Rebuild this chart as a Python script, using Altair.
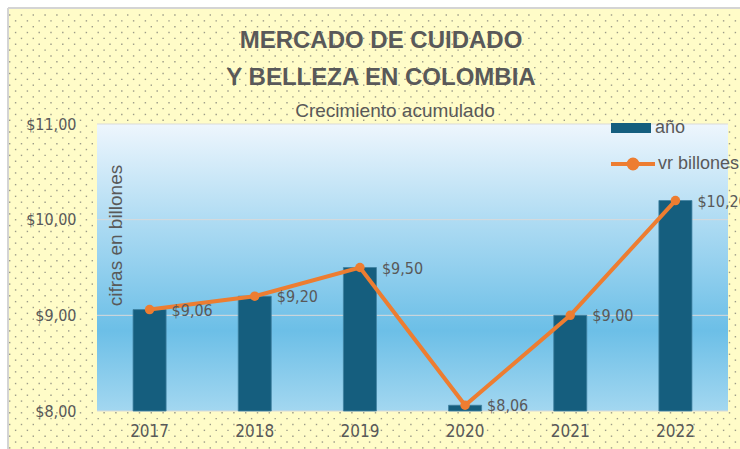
import altair as alt
import pandas as pd

# ---- data ----
years = ["2017", "2018", "2019", "2020", "2021", "2022"]
values = [9.06, 9.20, 9.50, 8.06, 9.00, 10.20]
y_ticks = [8, 9, 10, 11]
bar_series = "año"
line_series = "vr billones"
title_lines = ["MERCADO DE CUIDADO", "Y BELLEZA EN COLOMBIA"]
subtitle = "Crecimiento acumulado"
y_title = "cifras en billones"

W, H = 631, 287
GRAY = "#595959"
NARROW = "Liberation Sans Narrow, DejaVu Sans Condensed, Roboto"
REG = "Liberation Sans, Arial, sans-serif"

df = pd.DataFrame({"year": years, "value": values})
df["sb"] = bar_series
df["sl"] = line_series
df["label"] = ["$" + f"{v:.2f}".replace(".", ",") for v in values]

one = pd.DataFrame({"a": [0]})
grid_df = pd.DataFrame({"t": y_ticks})

xenc = alt.X("year:N", sort=years,
             scale=alt.Scale(paddingInner=0.686, paddingOuter=0.343),
             axis=alt.Axis(title=None, labelAngle=0, labelFont=NARROW, labelFontSize=17,
                           labelColor=GRAY, labelPadding=12, ticks=False, domain=False,
                           grid=False, zindex=1))
yscale = alt.Scale(domain=[8, 11], zero=False, nice=False)
yenc = alt.Y("value:Q", scale=yscale,
             axis=alt.Axis(values=y_ticks, grid=False, ticks=False, domain=False,
                           labelExpr="'$' + replace(format(datum.value, '.2f'), '.', ',')",
                           labelFont=NARROW, labelFontSize=16, labelColor=GRAY,
                           labelPadding=21, title=y_title, titleFont=REG,
                           titleFontSize=19, titleFontWeight="normal", titleColor=GRAY,
                           titleX=18, titleY=111, titleAngle=-90, titleBaseline="middle",
                           titleAlign="center", zindex=1))

# decorative background
yellow = alt.Chart(one).mark_rect(fill="#fffcc8").encode(
    x=alt.value(-88), x2=alt.value(W + 12), y=alt.value(-115), y2=alt.value(H + 38))
frame_top = alt.Chart(one).mark_rule(color="#d4d4d4", strokeWidth=2).encode(
    x=alt.value(-89), x2=alt.value(W + 12), y=alt.value(-116))
frame_left = alt.Chart(one).mark_rule(color="#d4d4d4", strokeWidth=2).encode(
    x=alt.value(-89), y=alt.value(-116), y2=alt.value(H + 38))

# dotted texture of the chart area (decorative pattern)
dots = alt.Chart(alt.sequence(0, 76 * 63, as_="k")).transform_calculate(
    j="floor(datum.k / 63)", i="datum.k % 63"
).transform_calculate(
    px="-87.3 + datum.i * 11.8 + (datum.j % 2) * 5.9",
    py="-109 + datum.j * 5.85"
).transform_filter(
    "datum.px < %d && datum.py < %d" % (W + 11, H + 37)
).mark_square(size=2, color="#8a8a7c", opacity=0.85).encode(
    x=alt.X("px:Q", scale=None, axis=None),
    y=alt.Y("py:Q", scale=None, axis=None))

grad = alt.Gradient(
    gradient="linear", x1=0, x2=0, y1=0, y2=1,
    stops=[alt.GradientStop(color="#eef6fd", offset=0),
           alt.GradientStop(color="#b0dcf3", offset=0.33),
           alt.GradientStop(color="#6cbfe7", offset=0.72),
           alt.GradientStop(color="#a3d7f0", offset=1)])
plot_bg = alt.Chart(one).mark_rect(fill=grad).encode(
    x=alt.value(0), x2=alt.value(W), y=alt.value(0), y2=alt.value(H))

# title texts (drawn as text marks above the plot area)
t1 = alt.Chart(one).mark_text(text=title_lines[0], font=REG, fontSize=24, fontWeight="bold",
                              color=GRAY, align="center", baseline="middle").encode(
    x=alt.value(284), y=alt.value(-83))
t2 = alt.Chart(one).mark_text(text=title_lines[1], font=REG, fontSize=24, fontWeight="bold",
                              color=GRAY, align="center", baseline="middle").encode(
    x=alt.value(284), y=alt.value(-46))
t3 = alt.Chart(one).mark_text(text=subtitle, font=REG, fontSize=19,
                              color=GRAY, align="center", baseline="middle").encode(
    x=alt.value(298), y=alt.value(-13))

grid = alt.Chart(grid_df).mark_rule(color="#d9d9d9", strokeWidth=1).encode(
    y=alt.Y("t:Q", scale=yscale))

base = alt.Chart(df)

bars = base.mark_bar(stroke="#3f80a0", strokeWidth=0.8).encode(
    x=xenc, y=yenc, y2=alt.datum(8),
    fill=alt.Fill("sb:N", scale=alt.Scale(domain=[bar_series], range=["#155e7e"]),
                  legend=alt.Legend(title=None, orient="none", legendX=514, legendY=-16,
                                    symbolType="M-1,-0.25H1V0.25H-1Z", symbolSize=1600,
                                    symbolStrokeWidth=0, labelFont=REG, labelFontSize=18,
                                    labelColor=GRAY, labelOffset=4, padding=0)))

line = base.mark_line(strokeWidth=4).encode(
    x=xenc, y=yenc,
    stroke=alt.Stroke("sl:N", scale=alt.Scale(domain=[line_series], range=["#ed7d31"]),
                      legend=alt.Legend(title=None, orient="none", legendX=512, legendY=16,
                                        symbolType="M-1,0H1M0.2,0A0.2,0.2,0,1,1,-0.2,0A0.2,0.2,0,1,1,0.2,0",
                                        symbolSize=1936, symbolStrokeWidth=4,
                                        symbolFillColor="#ed7d31",
                                        labelFont=REG, labelFontSize=18,
                                        labelColor=GRAY, labelOffset=1, padding=0)))

points = base.mark_point(filled=True, size=90, color="#ed7d31", opacity=1).encode(
    x=xenc, y=yenc)

labels = base.mark_text(align="left", baseline="middle", dx=22, dy=1,
                        font=NARROW, fontSize=16, color=GRAY).encode(
    x=xenc, y=yenc, text="label:N")

chart = alt.layer(yellow, dots, frame_top, frame_left, t1, t2, t3, plot_bg, grid,
                  bars, line, points, labels).properties(
    width=W, height=H,
    autosize=alt.AutoSizeParams(type="none"),
    padding={"left": 97, "top": 124, "right": 12, "bottom": 38},
    background="white",
).configure_view(stroke=None)

chart.save("out.html", embed_options={"renderer": "svg", "actions": False})
